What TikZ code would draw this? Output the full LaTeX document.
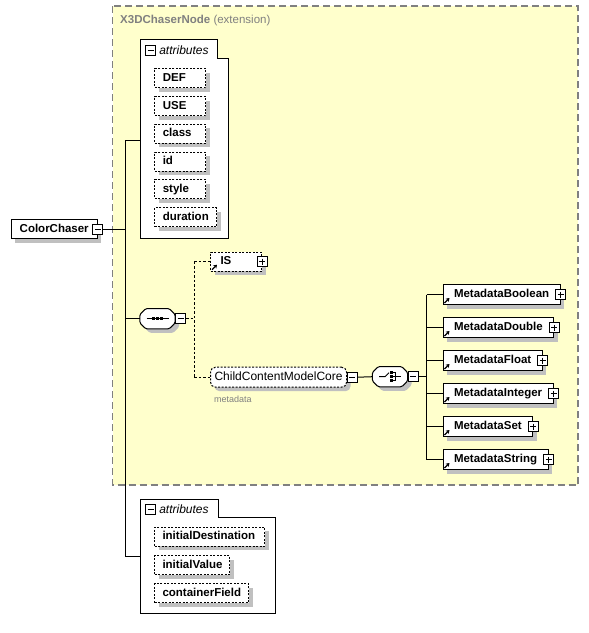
\documentclass[tikz,border=0pt]{standalone}
\usepackage{fontspec}
\setmainfont{Liberation Sans}
\usetikzlibrary{shadows,arrows.meta,positioning,calc}
\definecolor{extfill}{RGB}{255,255,204}
\definecolor{extborder}{RGB}{128,128,128}
\definecolor{shadowgray}{RGB}{192,192,192}
\newcommand{\fieldname}[2][35pt]{\makebox[#1][l]{#2}}
\newcommand{\octagonpath}[1]{([xshift=6pt]#1.north west) -- ([xshift=-6pt]#1.north east)
    -- ([yshift=-6pt]#1.north east) -- ([yshift=6pt]#1.south east)
    -- ([xshift=-6pt]#1.south east) -- ([xshift=6pt]#1.south west)
    -- ([yshift=6pt]#1.south west) -- ([yshift=-6pt]#1.north west) -- cycle}

\tikzset{
    wire/.style={line width=1pt},
    optwire/.style={line width=1pt, dash pattern=on 2.5pt off 2pt},
    box/.style={draw, fill=white, line width=1pt, anchor=north west,
        minimum height=19pt, inner xsep=8pt, inner ysep=0pt,
        text height=8.5pt, text depth=2.5pt,
        font=\fontsize{11.5}{13}\selectfont\bfseries,
        drop shadow={shadow xshift=4pt, shadow yshift=-4pt, fill=shadowgray, opacity=1}},
    attr/.style={box, dash pattern=on 2pt off 1.5pt},
    elem/.style={box, anchor=west, inner xsep=11pt, minimum height=20pt},
    compositor/.style={minimum width=35pt, minimum height=20pt, inner sep=0pt},
    octagon/.style={draw, fill=white, line width=1pt, rounded corners=1.5pt,
        drop shadow={shadow xshift=4pt, shadow yshift=-4pt, fill=shadowgray, opacity=1}},
    collapse/.style={draw, fill=white, line width=0.8pt, minimum size=10pt, inner sep=0pt,
        path picture={\draw ([xshift=2pt]path picture bounding box.west)
            -- ([xshift=-2pt]path picture bounding box.east);}},
    expand/.style={draw, fill=white, line width=0.8pt, minimum size=10pt, inner sep=0pt,
        path picture={\draw ([xshift=2pt]path picture bounding box.west)
            -- ([xshift=-2pt]path picture bounding box.east)
            ([yshift=-2pt]path picture bounding box.north)
            -- ([yshift=2pt]path picture bounding box.south);}},
    refarrow/.style={line width=1.2pt, -{Stealth[length=3.5pt,width=4.5pt]}},
    group/.style={draw, fill=white, line width=1pt},
    grouplabel/.style={inner sep=0pt, font=\fontsize{12}{14}\selectfont\itshape},
    title/.style={anchor=west, inner sep=0pt, text=extborder, font=\fontsize{11.5}{13}\selectfont},
    anno/.style={anchor=west, inner sep=0pt, text=extborder, font=\fontsize{9}{11}\selectfont}
}

\begin{document}
\begin{tikzpicture}[x=1pt, y=-1pt]
    \useasboundingbox (0,0) rectangle (589,633);

    % Extension base (yellow)
    \draw[fill=extfill, draw=extborder, line width=1.2pt, dash pattern=on 7pt off 4pt]
        (112.5,6) rectangle (578,485);
    \node[title] (exttitle) at (120,21) {\textbf{X3DChaserNode} (extension)};

    % Root element
    \node[box, minimum width=86pt] (colorchaser) at (10.7,219) {\fieldname[69pt]{ColorChaser}};
    \node[collapse] (ccminus) at (colorchaser.east) {};

    % Inherited attributes
    \draw[group] (140.7,39.3) -- (217,39.3) -- (217,58.3) -- (228.3,58.3)
        -- (228.3,238.3) -- (140.7,238.3) -- cycle;
    \node[collapse] (attrtoggle) at (150.7,50.3) {};
    \node[grouplabel, right=3pt of attrtoggle] (attrlabel) {attributes};
    \node[attr] (def) at (154.3,68.3) {\fieldname{DEF}};
    \node[attr] (use) at (154.3,96) {\fieldname{USE}};
    \node[attr] (class) at (154.3,123.8) {\fieldname{class}};
    \node[attr] (id) at (154.3,151.5) {\fieldname{id}};
    \node[attr] (style) at (154.3,179.3) {\fieldname{style}};
    \node[attr] (duration) at (154.3,207) {\fieldname[46pt]{duration}};

    % Own attributes
    \draw[group] (140.7,499) -- (218.3,499) -- (218.3,517.7) -- (275,517.7)
        -- (275,613.3) -- (140.7,613.3) -- cycle;
    \node[collapse] (owntoggle) at (150.7,509.7) {};
    \node[grouplabel, right=3pt of owntoggle] (ownlabel) {attributes};
    \node[attr] (initdest) at (154,526.7) {\fieldname[94pt]{initialDestination}};
    \node[attr] (initval) at (154,555) {\fieldname[59pt]{initialValue}};
    \node[attr] (contfield) at (154,583.3) {\fieldname[78pt]{containerField}};

    % Sequence
    \node[compositor] (seq) at (157.5,318.7) {};
    \draw[octagon] \octagonpath{seq};
    \node[collapse, anchor=west] (seqminus) at (seq.east) {};
    \draw[wire] ([xshift=-11pt]seq.center) -- ([xshift=11pt]seq.center);
    \foreach \d in {-4,0,4}
        \fill ([xshift=\d pt]seq.center) +(-1.4,-1.4) rectangle +(1.4,1.4);

    \node[attr, inner xsep=10pt] (is) at (210,251.7) {\fieldname[31pt]{IS}};
    \node[expand] (isplus) at (is.east) {};

    \node[box, rounded corners=5pt, dash pattern=on 2pt off 1.5pt, inner xsep=4pt,
        minimum height=20pt, font=\fontsize{12}{14}\selectfont] (ccmc) at (210,366.7) {ChildContentModelCore};
    \node[collapse, anchor=west] (ccmcminus) at (ccmc.east) {};
    \node[anno] (ccmcnote) at (214,399) {metadata};

    % Choice
    \node[compositor] (choice) at (390,376.7) {};
    \draw[octagon] \octagonpath{choice};
    \node[collapse, anchor=west] (choiceminus) at (choice.east) {};
    \draw[wire] ($(choice.center)+(-11,0)$) -- ($(choice.center)+(-5,0)$) -- ($(choice.center)+(-1,-4)$);
    \foreach \d in {-4,0,4}
        \fill ($(choice.center)+(1.5,\d)$) +(-1.3,-1.3) rectangle +(1.3,1.3);
    \draw[wire] ($(choice.center)+(3,-4)$) -- ($(choice.center)+(5,-4)$) -- ($(choice.center)+(5,4)$)
        -- ($(choice.center)+(3,4)$);
    \draw[wire] ($(choice.center)+(3,0)$) -- ($(choice.center)+(11,0)$);

    % Metadata elements
    \node[elem] (mdbool) at (442.5,294.5) {MetadataBoolean};
    \node[elem] (mddouble) at (442.5,327.5) {MetadataDouble};
    \node[elem] (mdfloat) at (442.5,360.5) {MetadataFloat};
    \node[elem] (mdint) at (442.5,393.5) {MetadataInteger};
    \node[elem] (mdset) at (442.5,426.5) {MetadataSet};
    \node[elem] (mdstring) at (442.5,459.5) {MetadataString};
    \foreach \n in {mdbool,mddouble,mdfloat,mdint,mdset,mdstring} {
        \node[expand] (\n plus) at (\n.east) {};
    }
    \foreach \n in {is,mdbool,mddouble,mdfloat,mdint,mdset,mdstring}
        \draw[refarrow] ([shift={(2,-2)}]\n.south west) -- ++(5,-5);

    % Connectors
    \coordinate (bus) at (125.3,140);
    \coordinate (busend) at (125.3,556);
    \coordinate (attrentry) at (140.7,140);
    \coordinate (ownentry) at (140.7,556);
    \draw[wire] (ccminus.east) -- (ccminus.east -| bus);
    \draw[wire] (bus) -- (busend);
    \draw[wire] (bus) -- (attrentry);
    \draw[wire] (busend) -- (ownentry);
    \draw[wire] (seq.west -| bus) -- (seq.west);

    \coordinate (fork) at (194.3,318.7);
    \draw[optwire] (seqminus.east) -- (fork);
    \draw[optwire] (is.west -| fork) -- (ccmc.west -| fork);
    \draw[optwire] (is.west -| fork) -- (is.west);
    \draw[optwire] (ccmc.west -| fork) -- (ccmc.west);

    \draw[wire] (ccmcminus.east) -- (choice.west);
    \coordinate (choicebus) at (426.7,376.7);
    \draw[wire] (choiceminus.east) -- (choicebus);
    \draw[wire] (mdbool.west -| choicebus) -- (mdstring.west -| choicebus);
    \foreach \n in {mdbool,mddouble,mdfloat,mdint,mdset,mdstring}
        \draw[wire] (\n.west -| choicebus) -- (\n.west);
\end{tikzpicture}
\end{document}
